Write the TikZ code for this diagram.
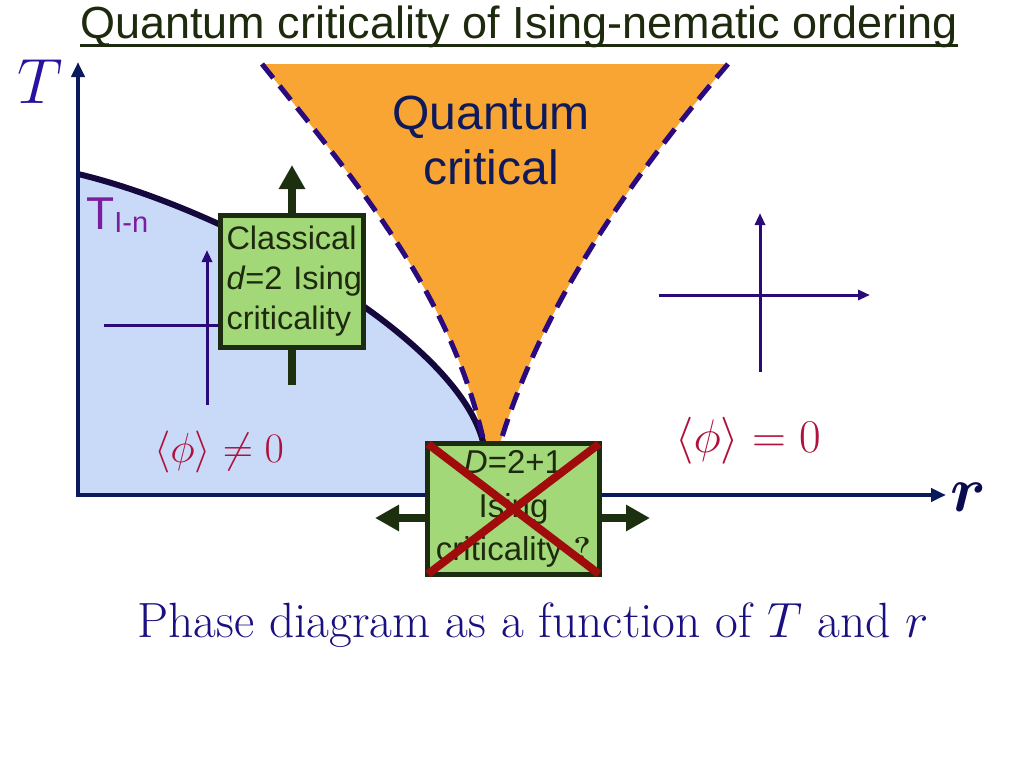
\RequirePackage{fix-cm}
\documentclass[tikz,border=0pt]{standalone}
\usepackage{fontspec}
\usepackage{amsmath}
\newfontfamily\arialf{Liberation Sans}
\usetikzlibrary{arrows.meta}
\definecolor{axisc}{HTML}{0B1A5C}
\definecolor{titlec}{HTML}{1E2A0E}
\definecolor{qcc}{HTML}{0E1A5A}
\definecolor{orangec}{HTML}{F9A533}
\definecolor{bluec}{HTML}{C9DAF8}
\definecolor{dashc}{HTML}{2B0A80}
\definecolor{curvec}{HTML}{14083C}
\definecolor{greenc}{HTML}{A3D878}
\definecolor{gborder}{HTML}{1C2C10}
\definecolor{arrowc}{HTML}{1C3010}
\definecolor{redx}{HTML}{A00C0C}
\definecolor{phic}{HTML}{B0103A}
\definecolor{tinc}{HTML}{7A1E9E}
\definecolor{capc}{HTML}{1A1080}
\definecolor{crossc}{HTML}{2A0A78}
\definecolor{tlabc}{HTML}{2A12A0}
\definecolor{rlabc}{HTML}{0A0A50}
\begin{document}
\begin{tikzpicture}[x=1pt,y=-1pt,
  axisline/.style={draw=axisc, line width=4.5pt, -{Triangle[width=13pt,length=15pt]}},
  crossline/.style={draw=crossc, line width=3pt},
  crossarrow/.style={crossline, -{Triangle[width=10pt,length=12pt]}},
  gbox/.style={draw=gborder, fill=greenc, line width=5pt, inner sep=0pt, text=titlec},
  boxfont/.style={font=\arialf\fontsize{32.5}{40}\selectfont},
  bigarrow/.style={draw=arrowc, line width=8pt, -{Triangle[width=25pt,length=24pt]}},
  stub/.style={draw=arrowc, line width=8pt},
  dashcurve/.style={draw=dashc, line width=5pt, dash pattern=on 18pt off 10pt},
  phitext/.style={text=phic, inner sep=0pt},
  redcross/.style={draw=redx, line width=8pt},
]
\useasboundingbox (0,0) rectangle (1024,768);

% coordinates
\coordinate (origin) at (78,495);
\coordinate (ttop) at (78,62);
\coordinate (rend) at (946,495);
\coordinate (tcstart) at (78,174);
\coordinate (qcpL) at (485,447);
\coordinate (qcpR) at (499,447);
\coordinate (fanL) at (262,64);
\coordinate (fanR) at (728,64);

% ordered phase region
\fill[bluec] (tcstart) .. controls (230,210) and (462,340) .. (484,446) -- (484,495) -- (origin) -- cycle;

% quantum critical fan
\fill[orangec] (fanL) .. controls (363,190) and (453,297) .. (qcpL) -- (qcpR) .. controls (539,312) and (623,187) .. (fanR) -- cycle;

% Tc line
\draw[draw=curvec, line width=6pt] (tcstart) .. controls (230,210) and (462,340) .. (484,446);

% crossover lines
\draw[dashcurve] (fanL) .. controls (363,190) and (453,297) .. (qcpL);
\draw[dashcurve] (fanR) .. controls (623,187) and (539,312) .. (qcpR);

% axes
\draw[axisline] ([yshift=-2pt]origin) -- (ttop);
\draw[axisline] ([xshift=-2pt]origin) -- (rend);
\node[text=tlabc, font=\fontsize{64}{70}\selectfont, inner sep=0pt, anchor=base] (tlab) at (40,103) {$T$};
\node[text=rlabc, font=\fontsize{64}{70}\selectfont, inner sep=0pt, anchor=base] (rlab) at (968,511) {$\boldsymbol{r}$};

% small cross axes
\coordinate (lvb) at (207,405);
\coordinate (lvt) at (207,250);
\coordinate (lhl) at (104,325);
\coordinate (lhr) at (225,325);
\draw[crossarrow] (lvb) -- (lvt);
\draw[crossline] (lhl) -- (lhr);
\coordinate (rvb) at (760,372);
\coordinate (rvt) at (760,213);
\coordinate (rhl) at (659,295);
\coordinate (rhr) at (870,295);
\draw[crossarrow] (rvb) -- (rvt);
\draw[crossarrow] (rhl) -- (rhr);

% Classical box
\node[gbox, boxfont, minimum width=143pt, minimum height=132pt, text width=131pt, align=left] (cbox) at (292,281.5) {Classical\\\textit{d}=2~Ising\\criticality};
\coordinate (cup) at (292,165);
\coordinate (cdown) at (292,385);
\draw[bigarrow] (cbox.north) -- (cup);
\draw[stub] (cbox.south) -- (cdown);

% D box
\coordinate (dl) at (375,518);
\coordinate (dr) at (650,518);
\node[gbox, font=\arialf\fontsize{33}{43.5}\selectfont, minimum width=172pt, minimum height=131pt, text width=172pt, align=center] (dbox) at (513.5,509) {\textit{D}=2+1\\Ising\\criticality {\rmfamily\bfseries ?}};
\draw[bigarrow] (dbox.west |- dl) -- (dl);
\draw[bigarrow] (dbox.east |- dr) -- (dr);
\draw[redcross] ([shift={(3pt,-3pt)}]dbox.north west) -- ([shift={(-3pt,3pt)}]dbox.south east);
\draw[redcross] ([shift={(-3pt,-3pt)}]dbox.north east) -- ([shift={(3pt,3pt)}]dbox.south west);

% labels
\node[text=qcc, font=\arialf\fontsize{48}{55}\selectfont, align=center, inner sep=0pt] (qc) at (491,140) {Quantum\\critical};
\node[anchor=base west, inner sep=0pt, text=tinc, font=\arialf] (tin) at (86,229) {{\fontsize{46}{50}\selectfont T}\raisebox{-3pt}{\fontsize{29}{32}\selectfont I-n}};
\node[phitext, font=\fontsize{42}{50}\selectfont, anchor=base] (phin) at (219,462) {$\langle\phi\rangle\neq0$};
\node[phitext, font=\fontsize{47}{50}\selectfont, anchor=base] (phiz) at (748,452) {$\langle\phi\rangle=0$};

% title
\node[text=titlec, font=\arialf\fontsize{45}{54}\selectfont, inner sep=0pt, anchor=base] (title) at (519,39) {Quantum criticality of Ising-nematic ordering};
\draw[titlec, line width=3pt] ([yshift=-7pt]title.base west) -- ([yshift=-7pt]title.base east);

% caption
\node[text=capc, font=\fontsize{49.5}{54}\selectfont, inner sep=0pt, anchor=base] (cap) at (533,637) {Phase diagram as a function of $T$ and $r$};
\end{tikzpicture}
\end{document}
